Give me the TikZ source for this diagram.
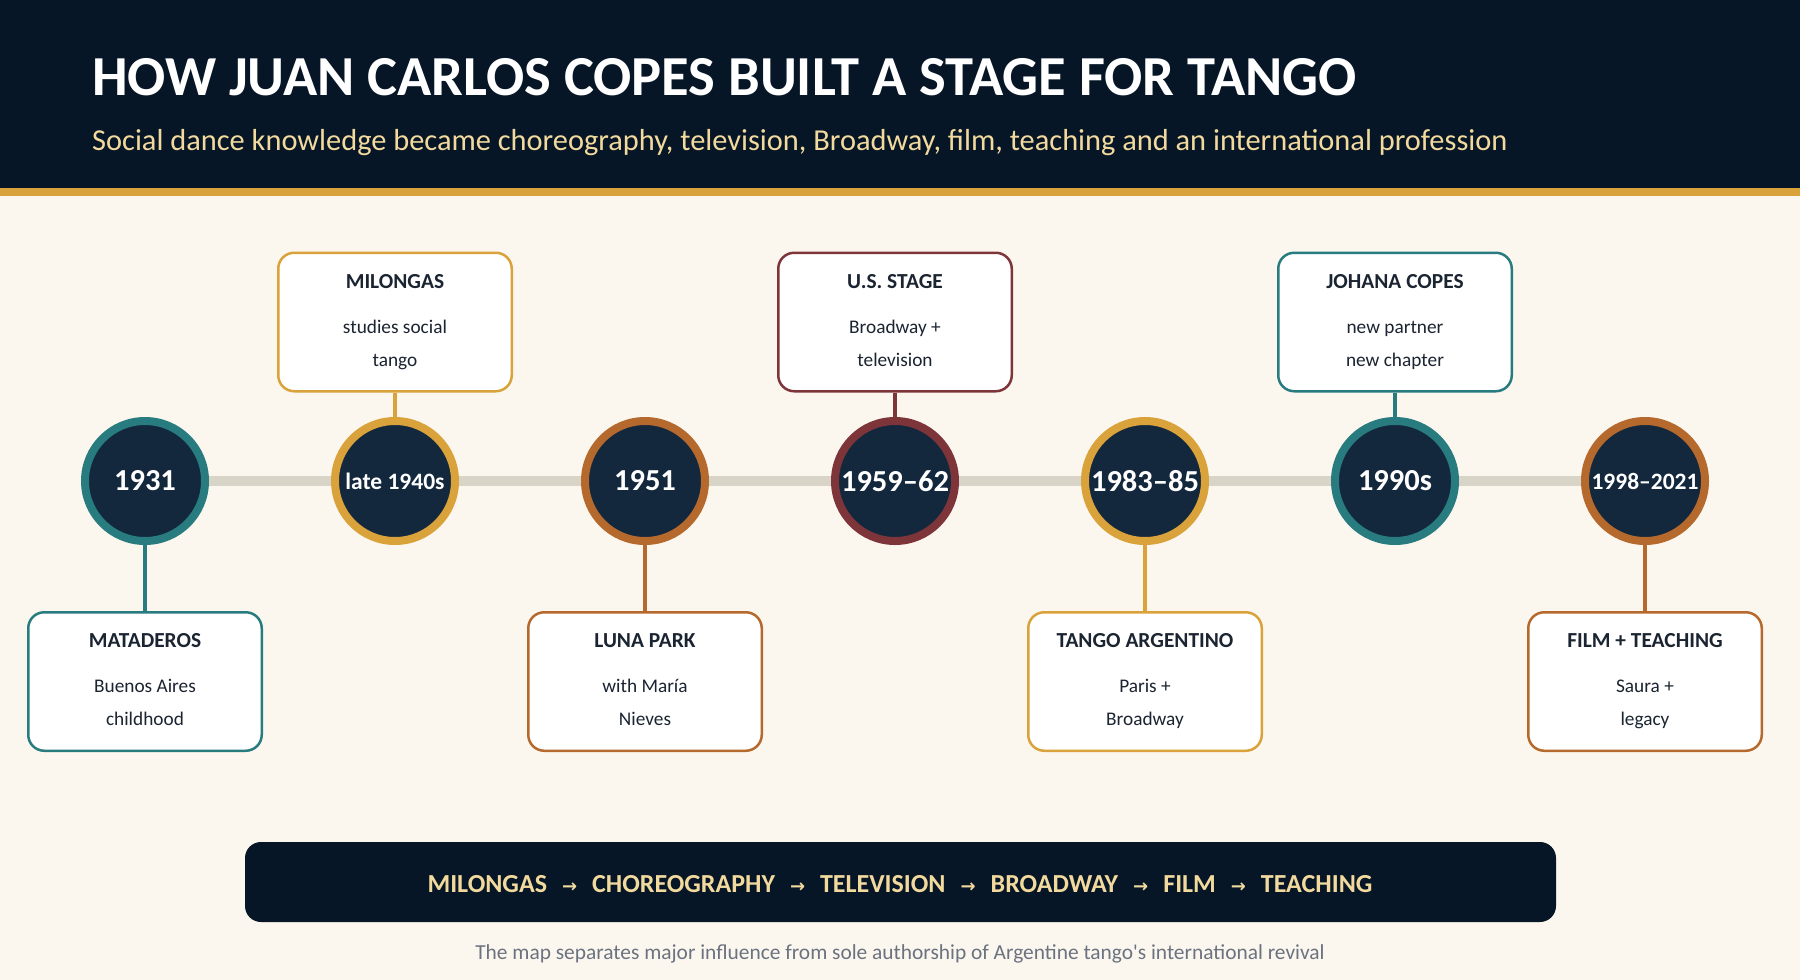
\documentclass[tikz,border=0pt]{standalone}
\usepackage{fontspec}
\setmainfont{Carlito}[Ligatures=TeXOff]
\newfontfamily\arrowfont{DejaVu Sans}
\usepackage{xcolor}

\definecolor{navy}{HTML}{071626}
\definecolor{disc}{HTML}{13283D}
\definecolor{cream}{HTML}{FBF7EE}
\definecolor{goldc}{HTML}{D9A23A}
\definecolor{tealc}{HTML}{287B7E}
\definecolor{copperc}{HTML}{B5692C}
\definecolor{maroonc}{HTML}{7E353A}
\definecolor{ink}{HTML}{1B2431}
\definecolor{wheat}{HTML}{F2DA9E}
\definecolor{spinegray}{HTML}{D8D5C8}
\definecolor{notegray}{HTML}{6B7280}

\tikzset{
  year/.style={circle, draw=#1, line width=8pt, fill=disc, minimum size=120pt, inner sep=0pt, text=white, font=\bfseries\fontsize{30.5}{34}\selectfont},
  yearsmall/.style={year=#1, font=\bfseries\fontsize{23.5}{28}\selectfont},
  event/.style={rectangle, rounded corners=16pt, draw=#1, line width=2.5pt, fill=white, minimum width=233.5pt, minimum height=138.5pt, inner sep=0pt, align=center, text=ink, font=\fontsize{19.3}{33}\selectfont},
  stem/.style={draw=#1, line width=3.5pt},
  spine/.style={draw=spinegray, line width=10pt},
}

\newcommand{\eventtext}[3]{\rule{0pt}{15pt}{\bfseries\fontsize{21.4}{33}\selectfont #1}\\[12pt]#2\\#3\rule[-5pt]{0pt}{5pt}}
\newcommand{\flowarrow}{\hspace{15pt}{\arrowfont\fontsize{18}{20}\selectfont →}\hspace{15pt}}

\begin{document}
\begin{tikzpicture}[x=1pt, y=-1pt]
\useasboundingbox (0,0) rectangle (1800,980);

% Background and header
\fill[cream] (0,0) rectangle (1800,980);
\fill[navy] (0,0) rectangle (1800,188);
\fill[goldc] (0,188) rectangle (1800,196);
\node[anchor=base west, inner sep=0pt, text=white, font=\bfseries\fontsize{56.5}{60}\selectfont] (title) at (92,95) {HOW JUAN CARLOS COPES BUILT A STAGE FOR TANGO};
\node[anchor=base west, inner sep=0pt, text=wheat, font=\fontsize{30.4}{34}\selectfont] (subtitle) at (92,150) {Social dance knowledge became choreography, television, Broadway, film, teaching and an international profession};

% Year discs
\node[year=tealc] (y1931) at (145,481) {1931};
\node[yearsmall=goldc] (y1940s) at (395,481) {late 1940s};
\node[year=copperc] (y1951) at (645,481) {1951};
\node[year=maroonc] (y1959) at (895,481) {1959–62};
\node[year=goldc] (y1983) at (1145,481) {1983–85};
\node[year=tealc] (y1990s) at (1395,481) {1990s};
\node[yearsmall=copperc] (y1998) at (1645,481) {1998–2021};

% Timeline
\draw[spine] (y1931) -- (y1940s) (y1940s) -- (y1951) (y1951) -- (y1959)
  (y1959) -- (y1983) (y1983) -- (y1990s) (y1990s) -- (y1998);

% Event cards above
\node[event=goldc] (milongas) at (395,322) {\eventtext{MILONGAS}{studies social}{tango}};
\node[event=maroonc] (usstage) at (895,322) {\eventtext{U.S. STAGE}{Broadway +}{television}};
\node[event=tealc] (johana) at (1395,322) {\eventtext{JOHANA COPES}{new partner}{new chapter}};

% Event cards below
\node[event=tealc] (mataderos) at (145,681.5) {\eventtext{MATADEROS}{Buenos Aires}{childhood}};
\node[event=copperc] (lunapark) at (645,681.5) {\eventtext{LUNA PARK}{with María}{Nieves}};
\node[event=goldc] (tangoarg) at (1145,681.5) {\eventtext{TANGO ARGENTINO}{Paris +}{Broadway}};
\node[event=copperc] (filmteach) at (1645,681.5) {\eventtext{FILM + TEACHING}{Saura +}{legacy}};

% Stems
\draw[stem=goldc] (y1940s) -- (milongas);
\draw[stem=maroonc] (y1959) -- (usstage);
\draw[stem=tealc] (y1990s) -- (johana);
\draw[stem=tealc] (y1931) -- (mataderos);
\draw[stem=copperc] (y1951) -- (lunapark);
\draw[stem=goldc] (y1983) -- (tangoarg);
\draw[stem=copperc] (y1998) -- (filmteach);

% Flow bar
\node[fill=navy, rounded corners=16pt, minimum width=1311pt, minimum height=80pt, inner sep=0pt] (flow) at (900.5,882) {};
\node[text=wheat, font=\bfseries\fontsize{26}{28}\selectfont, inner sep=0pt] (flowtext) at (900,884) {MILONGAS\flowarrow CHOREOGRAPHY\flowarrow TELEVISION\flowarrow BROADWAY\flowarrow FILM\flowarrow TEACHING};

% Footnote
\node[anchor=base, inner sep=0pt, text=notegray, font=\fontsize{21.4}{24}\selectfont] (note) at (900,959) {The map separates major influence from sole authorship of Argentine tango's international revival};

\end{tikzpicture}
\end{document}
